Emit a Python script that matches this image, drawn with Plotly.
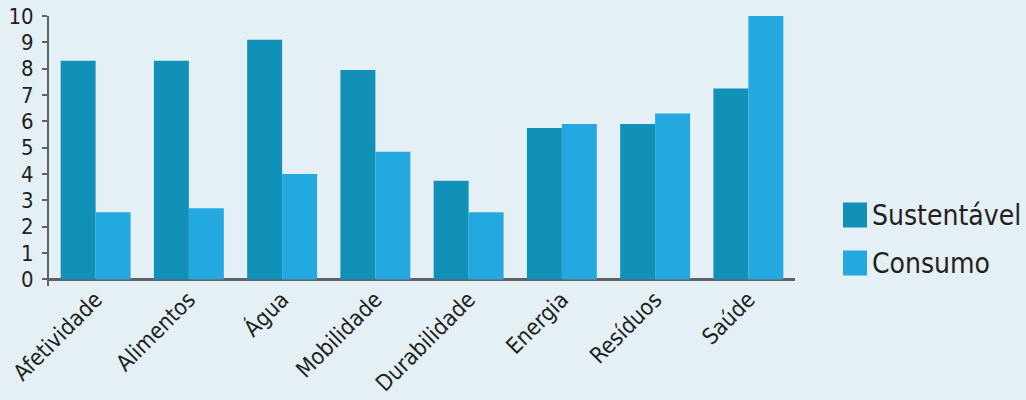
import plotly.graph_objects as go

categories = ["Afetividade", "Alimentos", "Água", "Mobilidade", "Durabilidade",
              "Energia", "Resíduos", "Saúde"]
sustentavel = [8.3, 8.3, 9.1, 7.95, 3.75, 5.75, 5.9, 7.25]
consumo = [2.55, 2.7, 4.0, 4.85, 2.55, 5.9, 6.3, 10.0]
series_names = ["Sustentável", "Consumo"]
y_ticks = list(range(0, 11))

DARK = "#1191B8"
LIGHT = "#24A8E0"
BG = "#E4EFF6"
AXIS = "#5E6165"
TEXT = "#231F20"
FONT = "DejaVu Sans Condensed, Liberation Sans Narrow, sans-serif"

fig = go.Figure()
fig.add_trace(go.Bar(x=categories, y=sustentavel, name=series_names[0],
                     marker=dict(color=DARK, line=dict(width=0)), showlegend=False))
fig.add_trace(go.Bar(x=categories, y=consumo, name=series_names[1],
                     marker=dict(color=LIGHT, line=dict(width=0)), showlegend=False))

fig.update_layout(
    width=1026, height=400,
    margin=dict(l=49, r=231, t=16, b=114),
    paper_bgcolor=BG, plot_bgcolor=BG,
    barmode="group", bargap=0.25, bargroupgap=0,
    font=dict(family=FONT, color=TEXT),
    xaxis=dict(
        tickangle=-45, tickfont=dict(size=22.5, family=FONT, color=TEXT),
        showline=False, showgrid=False, ticks="", zeroline=False,
        automargin=False, ticklabelstandoff=-5,
    ),
    yaxis=dict(
        range=[-0.25, 10], tickvals=y_ticks, ticktext=[str(v) for v in y_ticks],
        tickfont=dict(size=22, family=FONT, color=TEXT),
        showgrid=False, showline=True, linecolor=AXIS, linewidth=2,
        ticks="outside", ticklen=5, tickwidth=1.5, tickcolor=AXIS,
        zeroline=True, zerolinecolor=AXIS, zerolinewidth=2.5,
        ticklabelstandoff=4, automargin=False,
    ),
)

# legend drawn as layout decoration
legend_items = [(series_names[0], DARK, 215), (series_names[1], LIGHT, 263)]
for name, color, yc in legend_items:
    fig.add_shape(type="rect", xref="paper", yref="paper",
                  x0=(843 - 49) / 746, x1=(867 - 49) / 746,
                  y0=(286 - (yc + 12.5)) / 270, y1=(286 - (yc - 12.5)) / 270,
                  fillcolor=color, line=dict(width=0))
    fig.add_annotation(xref="paper", yref="paper", x=(870 - 49) / 746, y=(286 - yc) / 270,
                       text=name, showarrow=False, xanchor="left", yanchor="middle",
                       font=dict(size=28, family=FONT, color=TEXT))

fig.write_html("out.html")
